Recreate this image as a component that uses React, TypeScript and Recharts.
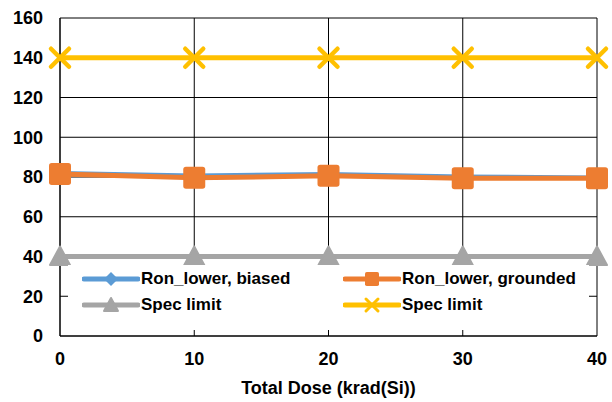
import { CartesianGrid, Line, LineChart, XAxis, YAxis } from "recharts";

const doses = [0, 10, 20, 30, 40];
const biased = [82, 80.8, 81.5, 80.3, 79.8];
const grounded = [81.5, 79.6, 80.6, 79.4, 79.4];
const specLow = [40, 40, 40, 40, 40];
const specHigh = [140, 140, 140, 140, 140];
const yTicks = [0, 20, 40, 60, 80, 100, 120, 140, 160];

const data = doses.map((dose, i) => ({
  dose,
  biased: biased[i],
  grounded: grounded[i],
  specLow: specLow[i],
  specHigh: specHigh[i],
}));

const BLUE = "#5B9BD5";
const ORANGE = "#ED7D31";
const GRAY = "#A5A5A5";
const YELLOW = "#FFC000";
const FONT = "'Liberation Sans', Arial, sans-serif";

type Marker = "diamond" | "square" | "triangle" | "cross";

function markerShape(kind: Marker, cx: number, cy: number, s: number, color: string) {
  if (kind === "diamond") {
    return <path d={`M${cx},${cy - s} L${cx + s},${cy} L${cx},${cy + s} L${cx - s},${cy} Z`} fill={color} />;
  }
  if (kind === "square") {
    return <rect x={cx - s} y={cy - s} width={s * 2} height={s * 2} rx={s * 0.25} fill={color} />;
  }
  if (kind === "triangle") {
    return <path d={`M${cx},${cy - s} L${cx + s},${cy + s * 0.85} L${cx - s},${cy + s * 0.85} Z`} fill={color} stroke={color} strokeWidth={2} strokeLinejoin="round" />;
  }
  return (
    <path
      d={`M${cx - s},${cy - s} L${cx + s},${cy + s} M${cx + s},${cy - s} L${cx - s},${cy + s}`}
      stroke={color}
      strokeWidth={s * 0.5}
      strokeLinecap="round"
    />
  );
}

const makeDot = (kind: Marker, s: number, color: string) => (props: any) => {
  const { cx, cy, index } = props;
  return <g key={`${kind}-${index}`}>{markerShape(kind, cx, cy, s, color)}</g>;
};

const legendItems: { label: string; color: string; kind: Marker; left: number; top: number }[] = [
  { label: "Ron_lower, biased", color: BLUE, kind: "diamond", left: 14, top: 14 },
  { label: "Ron_lower, grounded", color: ORANGE, kind: "square", left: 275, top: 14 },
  { label: "Spec limit", color: GRAY, kind: "triangle", left: 14, top: 40 },
  { label: "Spec limit", color: YELLOW, kind: "cross", left: 275, top: 40 },
];

function ChartLegend() {
  return (
    <div style={{ position: "absolute", left: 68, top: 265, width: 521, height: 65, background: "#fff" }}>
      {legendItems.map((item, i) => (
        <div
          key={i}
          style={{ position: "absolute", left: item.left, top: item.top - 12, height: 24, display: "flex", alignItems: "center" }}
        >
          <svg width={58} height={24}>
            <line x1={2} y1={12} x2={56} y2={12} stroke={item.color} strokeWidth={5} strokeLinecap="round" />
            {markerShape(item.kind, 29, 12, item.kind === "cross" ? 6 : 7, item.color)}
          </svg>
          <span style={{ fontFamily: FONT, fontWeight: 700, fontSize: 17, color: "#000", marginLeft: 1 }}>{item.label}</span>
        </div>
      ))}
    </div>
  );
}

export default function App() {
  return (
    <div style={{ position: "absolute", left: 0, top: 0, width: 612, height: 402, background: "#fff" }}>
      <LineChart width={612} height={402} data={data} margin={{ top: 18, right: 15, bottom: 0, left: 0 }}>
        <CartesianGrid stroke="#000" strokeWidth={1} />
        <XAxis
          type="number"
          dataKey="dose"
          domain={[0, 40]}
          ticks={doses}
          height={66}
          axisLine={{ stroke: "#000" }}
          tickLine={false}
          tickSize={6}
          tickMargin={10}
          tick={{ fill: "#000", fontSize: 18, fontWeight: 700, fontFamily: FONT }}
          label={{
            value: "Total Dose (krad(Si))",
            position: "insideBottom",
            offset: 8,
            fill: "#000",
            fontSize: 18,
            fontWeight: 700,
            fontFamily: FONT,
          }}
        />
        <YAxis
          domain={[0, 160]}
          ticks={yTicks}
          width={60}
          axisLine={{ stroke: "#000" }}
          tickLine={false}
          tickSize={6}
          tickMargin={11}
          tick={{ fill: "#000", fontSize: 18, fontWeight: 700, fontFamily: FONT }}
        />
        <Line dataKey="biased" stroke={BLUE} strokeWidth={4} dot={makeDot("diamond", 8, BLUE)} isAnimationActive={false} />
        <Line dataKey="grounded" stroke={ORANGE} strokeWidth={5} dot={makeDot("square", 11, ORANGE)} isAnimationActive={false} />
        <Line dataKey="specLow" stroke={GRAY} strokeWidth={5} dot={makeDot("triangle", 10, GRAY)} isAnimationActive={false} />
        <Line dataKey="specHigh" stroke={YELLOW} strokeWidth={5} dot={makeDot("cross", 9, YELLOW)} isAnimationActive={false} />
      </LineChart>
      <ChartLegend />
    </div>
  );
}
